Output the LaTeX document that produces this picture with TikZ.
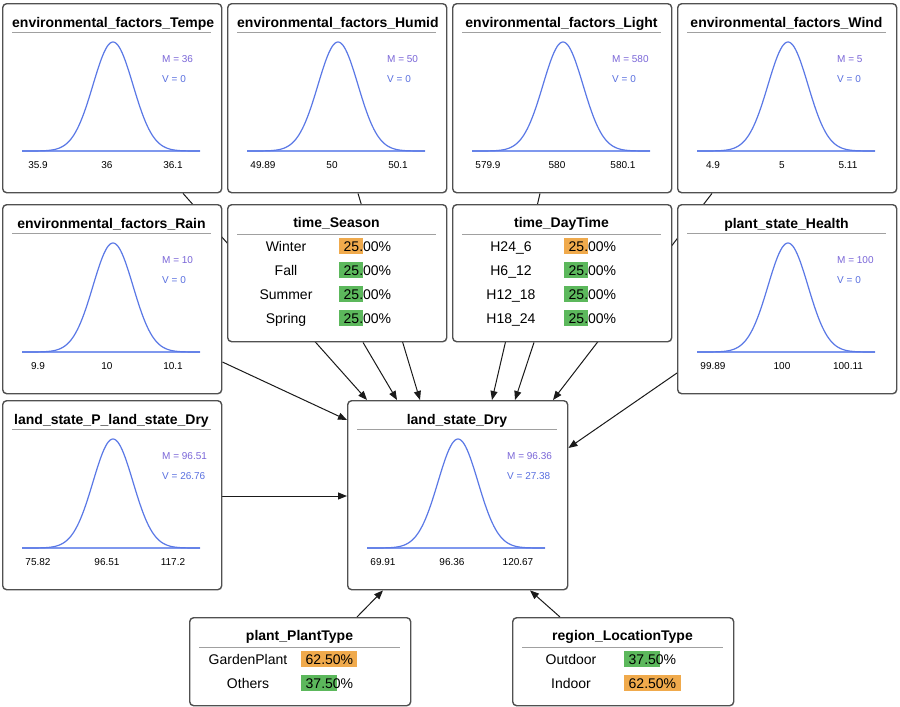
\documentclass[tikz,border=0pt]{standalone}
\usepackage{fontspec}
\setmainfont{Liberation Sans}
\usetikzlibrary{arrows.meta,backgrounds,calc}

\definecolor{edgecol}{HTML}{1A1A1A}
\definecolor{boxline}{HTML}{505050}
\definecolor{sepgray}{HTML}{A0A0A0}
\definecolor{curvecol}{HTML}{5A78E6}
\definecolor{basecol}{HTML}{7F98EE}
\definecolor{mcol}{HTML}{7A66D8}
\definecolor{vcol}{HTML}{5A70E0}
\definecolor{barorange}{HTML}{F0AA4C}
\definecolor{bargreen}{HTML}{5CB85C}

\tikzset{
  card/.style={draw=boxline, line width=1.4pt, rounded corners=4pt, fill=white,
    anchor=north west, inner sep=0pt},
  ttl/.style={font=\fontsize{14}{16}\selectfont\bfseries, inner sep=0pt},
  seprule/.style={draw=sepgray, line width=0.9pt},
  gausscurve/.style={draw=curvecol, line width=1.2pt},
  axisline/.style={draw=basecol, line width=1.8pt},
  smalltxt/.style={font=\fontsize{10}{12}\selectfont, inner sep=0pt},
  rowtxt/.style={font=\fontsize{14}{16}\selectfont, inner sep=0pt},
  linkarrow/.style={draw=edgecol, line width=1pt, -{Triangle[length=9pt,width=7pt]}},
}

% continuous variable card: name, width, height, title
\newcommand{\contcard}[4]{%
  \node[card, minimum width=#2pt, minimum height=#3pt] (#1) at (0,0) {};
  \node[ttl, anchor=base] (#1-title) at ({#2/2},24) {#4};
  \draw[seprule] (10,29) -- ({#2-10},29);
}
% card whose title is cut at the right margin
\newcommand{\contcardcut}[4]{%
  \node[card, minimum width=#2pt, minimum height=#3pt] (#1) at (0,0) {};
  \begin{scope}
    \clip (10,0) rectangle ({#2-8},40);
    \node[ttl, anchor=base west] (#1-title) at (10,24) {#4};
  \end{scope}
  \draw[seprule] (10,29) -- ({#2-10},29);
}
% density plot: name, M, V, low, mid, high
\newcommand{\densityplot}[6]{%
  \draw[axisline] (20,148) -- (198,148);
  \draw[gausscurve] plot[domain=20:198, samples=120, smooth]
    (\x, {148 - 109*exp(-((\x-111)^2)/800)});
  \node[smalltxt, text=mcol, anchor=base west] (#1-m) at (160,59.5) {M = #2};
  \node[smalltxt, text=vcol, anchor=base west] (#1-v) at (160,79.5) {V = #3};
  \node[smalltxt, anchor=base] (#1-lo) at (36,165) {#4};
  \node[smalltxt, anchor=base] (#1-mid) at (105,165) {#5};
  \node[smalltxt, anchor=base] (#1-hi) at (171,165) {#6};
}
% discrete card: name, width, height, title
\newcommand{\disccard}[4]{%
  \node[card, minimum width=#2pt, minimum height=#3pt] (#1) at (0,0) {};
  \node[ttl, anchor=base] (#1-title) at ({#2/2},23) {#4};
  \draw[seprule] (10,30) -- ({#2-10},30);
}
% state row: node name, row y, label, bar width, bar colour, percentage
\newcommand{\staterow}[6]{%
  \fill[#5] (112,{#2-8}) rectangle ({112+#4},{#2+8});
  \node[rowtxt, anchor=base] (#1-lab) at (59,{#2+5}) {#3};
  \node[rowtxt, anchor=base west] (#1-pct) at (116.5,{#2+5}) {#6};
}

\begin{document}
\begin{tikzpicture}[x=1pt, y=-1pt]
\useasboundingbox (0,0) rectangle (900,707);

% ---- top row ----
\begin{scope}[shift={(2,3)}]
  \contcardcut{tempe}{219}{189}{environmental\_factors\_Tempe}
  \densityplot{tempe}{36}{0}{35.9}{36}{36.1}
\end{scope}
\begin{scope}[shift={(227,3)}]
  \contcardcut{humid}{219}{189}{environmental\_factors\_Humid}
  \densityplot{humid}{50}{0}{49.89}{50}{50.1}
\end{scope}
\begin{scope}[shift={(452,3)}]
  \contcard{light}{219}{189}{environmental\_factors\_Light}
  \densityplot{light}{580}{0}{579.9}{580}{580.1}
\end{scope}
\begin{scope}[shift={(677,3)}]
  \contcard{wind}{219}{189}{environmental\_factors\_Wind}
  \densityplot{wind}{5}{0}{4.9}{5}{5.11}
\end{scope}

% ---- second row ----
\begin{scope}[shift={(2,204)}]
  \contcard{rain}{219}{189}{environmental\_factors\_Rain}
  \densityplot{rain}{10}{0}{9.9}{10}{10.1}
\end{scope}
\begin{scope}[shift={(227,204)}]
  \disccard{season}{219}{137}{time\_Season}
  \staterow{winter}{42}{Winter}{24}{barorange}{25.00\%}
  \staterow{fall}{66}{Fall}{24}{bargreen}{25.00\%}
  \staterow{summer}{90}{Summer}{24}{bargreen}{25.00\%}
  \staterow{spring}{114}{Spring}{24}{bargreen}{25.00\%}
\end{scope}
\begin{scope}[shift={(452,204)}]
  \disccard{daytime}{219}{137}{time\_DayTime}
  \staterow{h246}{42}{H24\_6}{24}{barorange}{25.00\%}
  \staterow{h612}{66}{H6\_12}{24}{bargreen}{25.00\%}
  \staterow{h1218}{90}{H12\_18}{24}{bargreen}{25.00\%}
  \staterow{h1824}{114}{H18\_24}{24}{bargreen}{25.00\%}
\end{scope}
\begin{scope}[shift={(677,204)}]
  \contcard{health}{219}{189}{plant\_state\_Health}
  \densityplot{health}{100}{0}{99.89}{100}{100.11}
\end{scope}

% ---- third row ----
\begin{scope}[shift={(2,400)}]
  \contcard{pland}{219}{189}{land\_state\_P\_land\_state\_Dry}
  \densityplot{pland}{96.51}{26.76}{75.82}{96.51}{117.2}
\end{scope}
\begin{scope}[shift={(347,400)}]
  \contcard{dry}{220}{189}{land\_state\_Dry}
  \densityplot{dry}{96.36}{27.38}{69.91}{96.36}{120.67}
\end{scope}

% ---- bottom row ----
\begin{scope}[shift={(189,617)}]
  \disccard{plant}{221}{88}{plant\_PlantType}
  \staterow{garden}{42}{GardenPlant}{56}{barorange}{62.50\%}
  \staterow{others}{66}{Others}{36}{bargreen}{37.50\%}
\end{scope}
\begin{scope}[shift={(512,617)}]
  \disccard{location}{221}{88}{region\_LocationType}
  \staterow{outdoor}{42}{Outdoor}{36}{bargreen}{37.50\%}
  \staterow{indoor}{66}{Indoor}{57}{barorange}{62.50\%}
\end{scope}

% ---- links, drawn beneath the cards ----
\begin{pgfonlayer}{background}
  \fill[white] (0,0) rectangle (900,707);
  \draw[linkarrow] ($(tempe.south west)+(181,0)$) -- ($(dry.north west)+(20,0)$);
  \draw[linkarrow] ($(season.south west)+(136,0)$) -- ($(dry.north west)+(50,0)$);
  \draw[linkarrow] ($(humid.south west)+(131,0)$) -- ($(dry.north west)+(73,0)$);
  \draw[linkarrow] ($(light.south west)+(88,0)$) -- ($(dry.north west)+(145,0)$);
  \draw[linkarrow] ($(daytime.south west)+(82,0)$) -- ($(dry.north west)+(168,0)$);
  \draw[linkarrow] ($(wind.south west)+(35,0)$) -- ($(dry.north west)+(206,0)$);
  \draw[linkarrow] ($(health.north west)+(0,169)$) -- ($(dry.north east)+(0,48)$);
  \draw[linkarrow] ($(rain.north east)+(0,158)$) -- ($(dry.north west)+(0,20)$);
  \draw[linkarrow] ($(pland.north east)+(0,96)$) -- ($(dry.north west)+(0,96)$);
  \draw[linkarrow] ($(plant.north west)+(168,0)$) -- ($(dry.south west)+(36,0)$);
  \draw[linkarrow] ($(location.north west)+(48,0)$) -- ($(dry.south west)+(183,0)$);
\end{pgfonlayer}
\end{tikzpicture}
\end{document}
